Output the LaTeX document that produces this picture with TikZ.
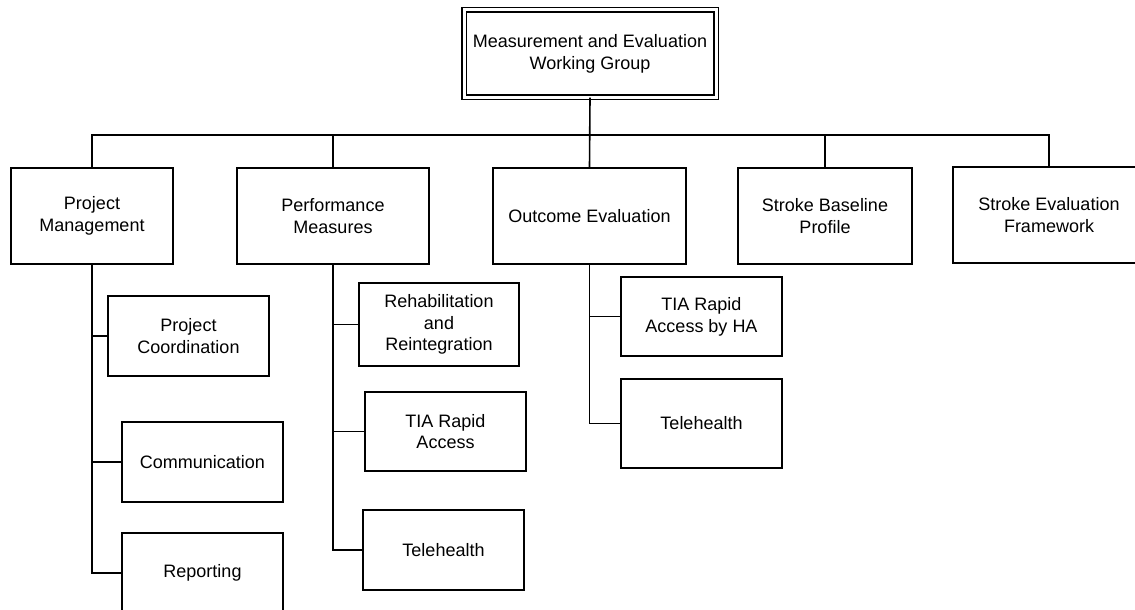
\documentclass[tikz,border=0pt]{standalone}
\usepackage{fontspec}
\setmainfont{Liberation Sans}
\usepackage{tikz}
\tikzstyle{box}=[draw, align=center, inner sep=0pt, font=\fontsize{18}{21.7}\selectfont]
\tikzstyle{topbox}=[box, double, double distance=3pt, line width=1.3pt]

\begin{document}
\begin{tikzpicture}[x=1pt, y=-1pt, line width=1.6pt]
    \clip (0,0) rectangle (1135,610);
% Head
    \node[topbox, minimum width=252, minimum height=87] (mewg) at (590,53.5) {Measurement and Evaluation\\Working Group};
% First row
    \node[box, minimum width=162, minimum height=96] (pm) at (92,216) {Project\\Management};
    \node[box, minimum width=192, minimum height=96] (pmeas) at (333,216) {Performance\\Measures};
    \node[box, minimum width=193, minimum height=96] (oe) at (589.5,216) {Outcome Evaluation};
    \node[box, minimum width=174, minimum height=96] (sbp) at (825,216) {Stroke Baseline\\Profile};
    \node[box, minimum width=192, minimum height=96] (sef) at (1049,215) {Stroke Evaluation\\Framework};
%Under Project Management
    \node[box, minimum width=161, minimum height=80] (pc) at (188.5,336) {Project\\Coordination};
    \node[box, minimum width=161, minimum height=80] (comm) at (202.5,462) {Communication};
    \node[box, minimum width=161, minimum height=80] (rep) at (202.5,573) {Reporting};
%Under Performance Measures
    \node[box, minimum width=160, minimum height=83] (rr) at (439,324.5) {Rehabilitation\\and\\Reintegration};
    \node[box, minimum width=161, minimum height=79] (tia) at (445.5,431.5) {TIA Rapid\\Access};
    \node[box, minimum width=161, minimum height=80] (telea) at (443.5,550) {Telehealth};
%Under Outcome Evaluation
    \node[box, minimum width=161, minimum height=79] (tiaha) at (701.5,316.5) {TIA Rapid\\Access by HA};
    \node[box, minimum width=161, minimum height=89] (teleb) at (701.5,423.5) {Telehealth};
% Lines
    \coordinate (bus) at (590,135);
    \draw (mewg.south) -- (oe.north);
    \draw (pm.north) |- (bus) -| (sef.north);
    \draw (pmeas.north) -- (pmeas.north |- bus);
    \draw (sbp.north) -- (sbp.north |- bus);
    \draw (pm.south) |- (pc.west);
    \draw (pm.south) |- (comm.west);
    \draw (pm.south) |- (rep.west);
    \draw (pmeas.south) |- (rr.west);
    \draw (pmeas.south) |- (tia.west);
    \draw (pmeas.south) |- (telea.west);
    \draw (oe.south) |- (tiaha.west);
    \draw (oe.south) |- (teleb.west);
\end{tikzpicture}
\end{document}
